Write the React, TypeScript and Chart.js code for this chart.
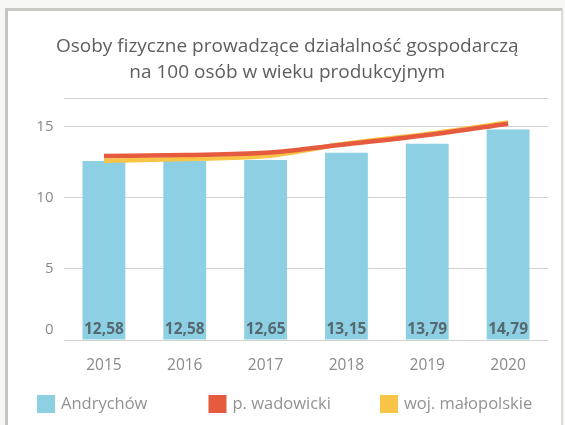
import React, { useEffect, useRef } from 'react';
import { Chart, registerables } from 'chart.js';

Chart.register(...registerables);

const years = ['2015', '2016', '2017', '2018', '2019', '2020'];
const andrychow = [12.58, 12.58, 12.65, 13.15, 13.79, 14.79];
const wadowicki = [12.93, 13.0, 13.15, 13.75, 14.4, 15.2];
const malopolskie = [12.6, 12.72, 12.92, 13.8, 14.48, 15.28];
const seriesNames = ['Andrychów', 'p. wadowicki', 'woj. małopolskie'];
const seriesColors = ['#8dd0e4', '#e65a3d', '#f8c447'];
const titleLines = ['Osoby fizyczne prowadzące działalność gospodarczą', 'na 100 osób w wieku produkcyjnym'];
const yMin = 0;
const yMax = 17;
const yStep = 5;

const FONT = "'Open Sans', 'Noto Sans', sans-serif";

const fmt = (v: number) => v.toFixed(2).replace('.', ',');

const overlayPlugin = {
  id: 'overlay',
  afterDatasetsDraw(chart: any) {
    const ctx = chart.ctx;
    const yScale = chart.scales.y;
    const meta = chart.getDatasetMeta(0);
    const zeroY = yScale.getPixelForValue(0);
    ctx.save();
    ctx.font = `bold 15.5px ${FONT}`;
    ctx.fillStyle = '#566870';
    ctx.textAlign = 'center';
    ctx.textBaseline = 'middle';
    meta.data.forEach((el: any, i: number) => {
      ctx.fillText(fmt(andrychow[i]), el.x, zeroY - 10);
    });
    ctx.font = `15px ${FONT}`;
    ctx.fillStyle = '#8a8a8a';
    ctx.textAlign = 'right';
    ctx.fillText('0', yScale.right - 10, zeroY - 10);
    ctx.restore();
  },
  afterDraw(chart: any) {
    const ctx = chart.ctx;
    ctx.save();
    const startX = 37;
    const itemW = 171.5;
    const cy = 404;
    ctx.font = `16.5px ${FONT}`;
    ctx.textBaseline = 'middle';
    ctx.textAlign = 'left';
    seriesNames.forEach((name, i) => {
      const x = startX + i * itemW;
      ctx.fillStyle = seriesColors[i];
      ctx.fillRect(x, cy - 9, 18, 18);
      ctx.fillStyle = '#929292';
      ctx.fillText(name, x + 24, cy);
    });
    ctx.restore();
  },
};

export default function App() {
  const ref = useRef<HTMLCanvasElement | null>(null);
  useEffect(() => {
    if (!ref.current) return;
    const chart = new Chart(ref.current, {
      type: 'bar',
      data: {
        labels: years,
        datasets: [
          {
            type: 'bar',
            label: seriesNames[0],
            data: andrychow,
            backgroundColor: seriesColors[0],
            barPercentage: 0.53,
            categoryPercentage: 1,
            order: 3,
          },
          {
            type: 'line',
            label: seriesNames[1],
            data: wadowicki,
            borderColor: seriesColors[1],
            borderWidth: 4.5,
            pointRadius: 0,
            cubicInterpolationMode: 'monotone',
            order: 1,
          },
          {
            type: 'line',
            label: seriesNames[2],
            data: malopolskie,
            borderColor: seriesColors[2],
            borderWidth: 4.5,
            pointRadius: 0,
            cubicInterpolationMode: 'monotone',
            order: 2,
          },
        ] as any,
      },
      options: {
        responsive: false,
        animation: false,
        devicePixelRatio: 1,
        layout: { padding: { left: 26, right: 16.5, top: 34, bottom: 50 } },
        plugins: {
          legend: { display: false },
          tooltip: { enabled: false },
          title: {
            display: true,
            text: titleLines,
            color: '#5e5e5e',
            font: { family: FONT, size: 19, weight: 'normal', lineHeight: 1.37 },
            padding: { top: 0, bottom: 12 },
          },
        },
        scales: {
          x: {
            grid: { display: false },
            border: { display: false },
            ticks: { color: '#8a8a8a', font: { family: FONT, size: 15.5 }, padding: 8 },
            afterFit: (s: any) => { s.height = 35; },
          },
          y: {
            min: yMin,
            max: yMax,
            ticks: {
              stepSize: yStep,
              color: '#8a8a8a',
              font: { family: FONT, size: 15 },
              padding: 10,
              callback: (v: any) => (v === yMax || v === 0 ? '' : String(v)),
            },
            grid: { color: '#d2d2d2', drawTicks: false },
            border: { display: false },
            afterFit: (s: any) => { s.width = 37.5; },
          },
        },
      },
      plugins: [overlayPlugin],
    });
    return () => chart.destroy();
  }, []);

  return (
    <div style={{ position: 'fixed', left: 0, top: 0, width: 565, height: 425, background: '#f7f7f5', overflow: 'hidden' }}>
      <div
        style={{
          position: 'absolute',
          left: 5,
          top: 8,
          width: 553,
          height: 430,
          background: '#ffffff',
          borderLeft: '3px solid #c4c4c0',
          borderTop: '3px solid #c8c8c4',
          borderRight: '2px solid #dcdcd8',
        }}
      />
      <canvas ref={ref} width={565} height={425} style={{ position: 'absolute', left: 0, top: 0 }} />
    </div>
  );
}
